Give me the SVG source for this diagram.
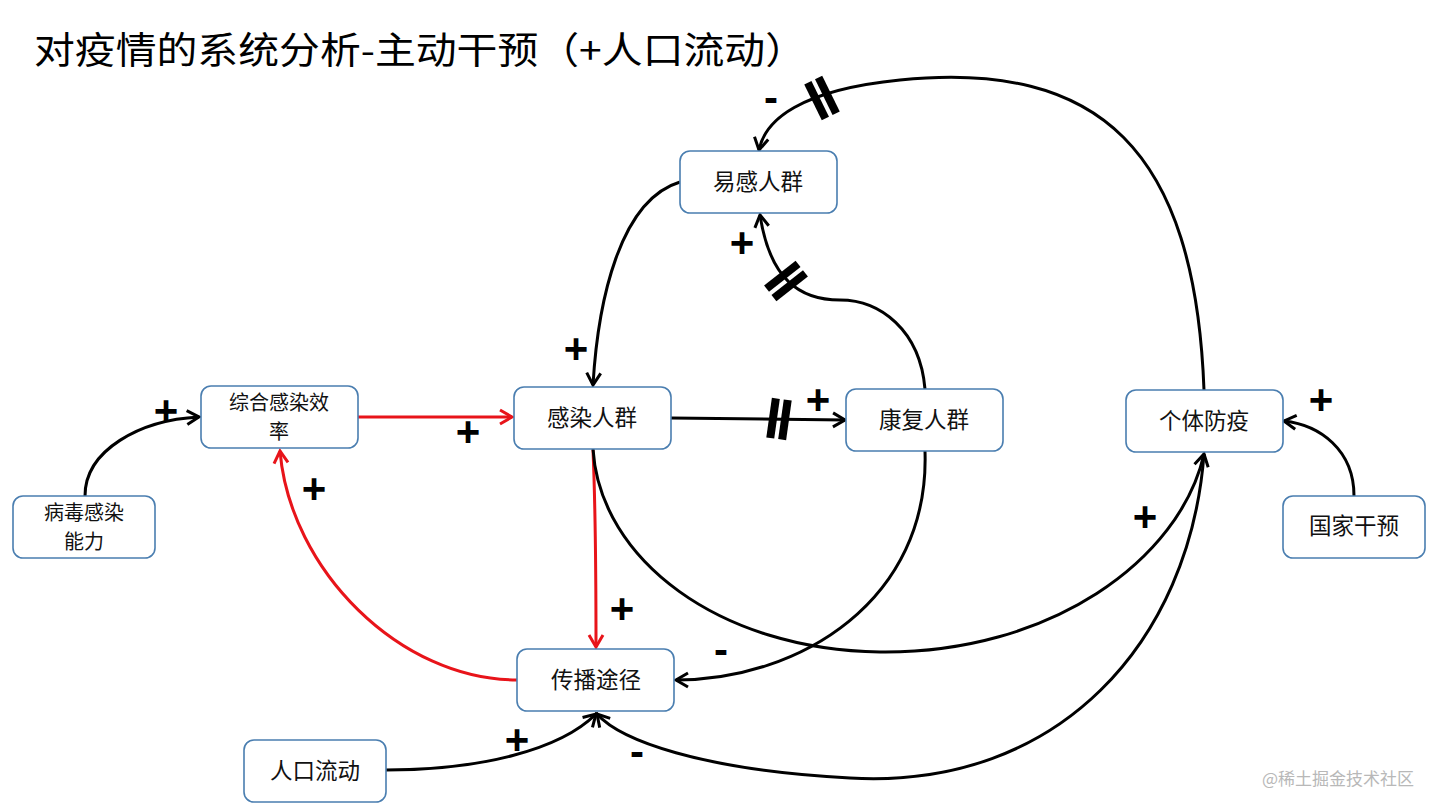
<svg xmlns="http://www.w3.org/2000/svg" width="1440" height="811" viewBox="0 0 1440 811">
<style>
.node rect{fill:#fff;stroke:#4a7eb0;stroke-width:1.6}
.node text{font-family:"Noto Sans CJK SC",sans-serif;font-size:22.5px;fill:#111;text-anchor:middle}
.node text.two{font-size:20px}
.c{fill:none;stroke:#000;stroke-width:3}
.r{fill:none;stroke:#e8141a;stroke-width:3}
.lbl{font-family:"Liberation Sans",sans-serif;font-size:42px;font-weight:bold;fill:#000;text-anchor:middle}
.bar{stroke:#000;stroke-width:8}
</style>
<defs>
<marker id="ab" viewBox="0 0 16 16" refX="14" refY="8" markerWidth="16" markerHeight="16" markerUnits="userSpaceOnUse" orient="auto" overflow="visible">
<path d="M2,1 L14,8 L2,15" fill="none" stroke="#000" stroke-width="3" stroke-linejoin="miter"/>
</marker>
<marker id="ar" viewBox="0 0 16 16" refX="14" refY="8" markerWidth="16" markerHeight="16" markerUnits="userSpaceOnUse" orient="auto" overflow="visible">
<path d="M2,1 L14,8 L2,15" fill="none" stroke="#e8141a" stroke-width="3" stroke-linejoin="miter"/>
</marker>
<g id="dbar">
<line class="bar" x1="-6" y1="-20" x2="-6" y2="20"/>
<line class="bar" x1="6" y1="-20" x2="6" y2="20"/>
</g>
</defs>
<rect width="1440" height="811" fill="#fff"/>
<text x="34" y="64" font-family="Noto Sans CJK SC,sans-serif" font-size="37" fill="#000" textLength="772" lengthAdjust="spacingAndGlyphs">对疫情的系统分析-主动干预（+人口流动）</text>

<g id="connectors">
<path class="c" d="M85,496 C85,450 140,420 199,417" marker-end="url(#ab)"/>
<path class="r" d="M358,417 L512,417" marker-end="url(#ar)"/>
<path class="r" d="M593,450 C596,520 596,600 596,647" marker-end="url(#ar)"/>
<path class="r" d="M517,680 C400,680 290,570 280,451" marker-end="url(#ar)"/>
<path class="c" d="M680,182 C620,200 598,300 593,385" marker-end="url(#ab)"/>
<path class="c" d="M671,418 L845,420" marker-end="url(#ab)"/>
<path class="c" d="M925,389 C920,330 880,300 840,300 C800,300 770,280 760,215" marker-end="url(#ab)"/>
<path class="c" d="M1204,390 C1195,150 1100,60 900,80 C800,90 765,120 759,150" marker-end="url(#ab)"/>
<path class="c" d="M593,449 C600,560 720,650 880,652 C1050,654 1180,560 1204,454" marker-end="url(#ab)"/>
<path class="c" d="M925,451 C930,600 800,680 676,680" marker-end="url(#ab)"/>
<path class="c" d="M386,770 C480,770 560,750 596,714" marker-end="url(#ab)"/>
<path class="c" d="M1204,454 C1190,640 1060,790 850,778 C700,770 620,740 597,714" marker-end="url(#ab)"/>
<path class="c" d="M1354,496 C1354,450 1320,425 1284,421" marker-end="url(#ab)"/>
<use href="#dbar" transform="translate(779,419) rotate(8)"/>
<use href="#dbar" transform="translate(786,281) rotate(52)"/>
<use href="#dbar" transform="translate(822,98) rotate(-26)"/>
<text class="lbl" x="166" y="425">+</text>
<text class="lbl" x="468" y="446">+</text>
<text class="lbl" x="314" y="503">+</text>
<text class="lbl" x="622" y="623">+</text>
<text class="lbl" x="576" y="363">+</text>
<text class="lbl" x="818" y="414">+</text>
<text class="lbl" x="742" y="257">+</text>
<text class="lbl" x="771" y="112">-</text>
<text class="lbl" x="1145" y="531">+</text>
<text class="lbl" x="721" y="664">-</text>
<text class="lbl" x="517" y="754">+</text>
<text class="lbl" x="637" y="766">-</text>
<text class="lbl" x="1321" y="414">+</text>
</g>

<g id="n-yigan" class="node"><rect x="680" y="151" width="157" height="62" rx="10"/><text x="758" y="190">易感人群</text></g>
<g id="n-zonghe" class="node"><rect x="201" y="386" width="157" height="62" rx="10"/><text class="two" x="279" y="410">综合感染效</text><text class="two" x="279" y="439">率</text></g>
<g id="n-ganran" class="node"><rect x="514" y="387" width="157" height="62" rx="10"/><text x="592" y="426">感染人群</text></g>
<g id="n-kangfu" class="node"><rect x="846" y="389" width="157" height="62" rx="10"/><text x="924" y="428">康复人群</text></g>
<g id="n-geti" class="node"><rect x="1126" y="390" width="157" height="62" rx="10"/><text x="1204" y="429">个体防疫</text></g>
<g id="n-bingdu" class="node"><rect x="13" y="496" width="142" height="62" rx="10"/><text class="two" x="84" y="520">病毒感染</text><text class="two" x="84" y="549">能力</text></g>
<g id="n-guojia" class="node"><rect x="1283" y="496" width="142" height="62" rx="10"/><text x="1354" y="534">国家干预</text></g>
<g id="n-chuanbo" class="node"><rect x="517" y="649" width="157" height="62" rx="10"/><text x="596" y="688">传播途径</text></g>
<g id="n-renkou" class="node"><rect x="244" y="740" width="142" height="62" rx="10"/><text x="315" y="779">人口流动</text></g>

<text x="1338" y="785" font-family="Noto Sans CJK SC,sans-serif" font-size="17" fill="#b8b8b8" text-anchor="middle">@稀土掘金技术社区</text>
</svg>
